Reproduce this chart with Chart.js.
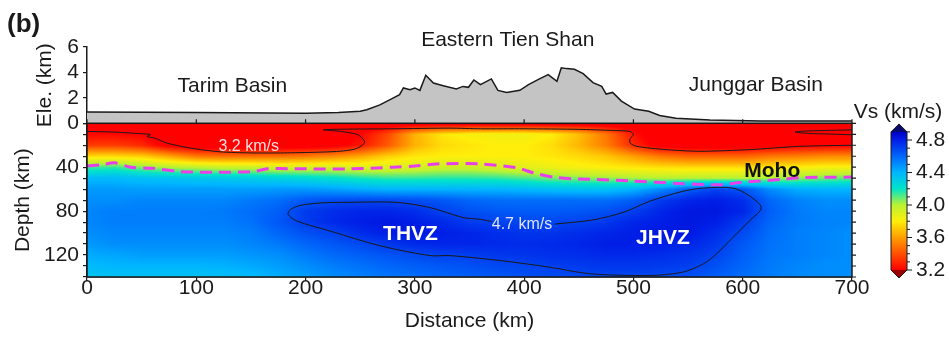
<!DOCTYPE html>
<html><head><meta charset="utf-8">
<script src="https://cdn.jsdelivr.net/npm/chart.js@4.4.1/dist/chart.umd.min.js"></script>
<style>html,body{margin:0;padding:0;background:#fff;}#wrap{width:949px;height:340px;position:relative;}</style>
</head><body><div id="wrap"><canvas id="c" width="949" height="340"></canvas></div>
<script>
// ---------------- data ----------------
const xTickLabels = ['0','100','200','300','400','500','600','700'];
const depthTickLabels = [40, 80, 120];
const eleTickLabels = [0, 2, 4, 6];
const cbTicks = [3.2, 3.6, 4.0, 4.4, 4.8];

// topography profile (km along profile, elevation km)
const eleDist = [0,100,200,230,250,256,268,280,286,289.5,295.6,300,304.6,310,317,326,338,344,349,354,360,370,376,384,396,404,414,422,430,434,439,446,454,463,471,475,481,489,501,514,524,539,570,616,700];
const eleKm   = [0.88,0.85,0.8,0.84,0.95,1.06,1.45,1.98,2.25,2.78,2.64,2.78,2.59,3.78,3.17,2.96,2.7,2.9,2.83,3.41,3.04,3.49,2.59,2.43,2.59,3.04,3.49,3.83,3.3,4.37,4.3,4.25,3.9,3.2,2.9,2.3,2.43,1.75,1.12,0.95,0.62,0.4,0.26,0.18,0.18];

// Vs model nodes
const vsDist  = [0,25,50,75,100,125,150,175,200,225,250,275,300,325,350,375,400,425,450,475,500,525,550,575,600,625,650,675,700];
const vsDepth = [0,10,20,30,40,50,60,70,80,90,100,110,120,130,140];
const vsD000 = [3.1,3.1,3.1,3.1,3.1,3.1,3.1,3.1,3.1,3.1,3.1,3.1,3.1,3.1,3.1,3.1,3.1,3.1,3.1,3.1,3.1,3.1,3.1,3.1,3.1,3.1,3.1,3.1,3.1];
const vsD010 = [3.22,3.22,3.2,3.1,3.05,3.05,3.05,3.05,3.08,3.12,3.2,3.38,3.65,3.78,3.82,3.84,3.84,3.8,3.68,3.5,3.25,3.1,3.05,3.05,3.05,3.05,3.1,3.1,3.1];
const vsD020 = [3.35,3.35,3.3,3.15,3.1,3.1,3.1,3.1,3.12,3.15,3.25,3.42,3.65,3.75,3.78,3.8,3.8,3.76,3.66,3.52,3.3,3.15,3.12,3.12,3.12,3.15,3.18,3.19,3.2];
const vsD030 = [3.75,3.75,3.72,3.62,3.5,3.48,3.48,3.48,3.5,3.55,3.62,3.72,3.78,3.8,3.8,3.8,3.8,3.78,3.75,3.7,3.6,3.5,3.45,3.45,3.45,3.5,3.52,3.55,3.55];
const vsD040 = [4.12,4.14,4.06,4.0,3.98,3.95,3.95,3.92,3.92,3.92,3.9,3.9,3.92,3.95,3.95,3.92,3.88,3.85,3.82,3.8,3.78,3.76,3.75,3.75,3.75,3.78,3.8,3.82,3.82];
const vsD050 = [4.38,4.38,4.36,4.35,4.33,4.32,4.3,4.28,4.25,4.22,4.18,4.15,4.15,4.16,4.16,4.15,4.12,4.08,4.06,4.04,4.02,4.0,4.0,4.0,4.0,4.02,4.05,4.08,4.1];
const vsD060 = [4.47,4.47,4.46,4.46,4.46,4.46,4.46,4.47,4.47,4.45,4.42,4.4,4.4,4.4,4.4,4.4,4.38,4.36,4.35,4.35,4.4,4.5,4.62,4.7,4.65,4.5,4.42,4.4,4.4];
const vsD070 = [4.5,4.5,4.52,4.52,4.52,4.52,4.55,4.58,4.64,4.67,4.68,4.68,4.67,4.64,4.6,4.58,4.58,4.58,4.58,4.58,4.62,4.72,4.78,4.8,4.76,4.6,4.53,4.5,4.5];
const vsD080 = [4.52,4.54,4.54,4.54,4.54,4.55,4.58,4.62,4.72,4.76,4.78,4.78,4.76,4.7,4.66,4.64,4.63,4.63,4.64,4.66,4.71,4.78,4.82,4.82,4.78,4.62,4.55,4.52,4.52];
const vsD090 = [4.52,4.54,4.54,4.54,4.54,4.54,4.57,4.64,4.72,4.77,4.8,4.82,4.8,4.77,4.72,4.7,4.69,4.69,4.7,4.73,4.78,4.8,4.82,4.8,4.72,4.6,4.55,4.53,4.52];
const vsD100 = [4.5,4.52,4.52,4.52,4.52,4.52,4.54,4.6,4.66,4.7,4.76,4.8,4.82,4.8,4.78,4.76,4.74,4.74,4.76,4.78,4.8,4.82,4.82,4.76,4.68,4.58,4.54,4.52,4.5];
const vsD110 = [4.47,4.5,4.5,4.5,4.5,4.5,4.52,4.55,4.6,4.64,4.68,4.73,4.77,4.78,4.78,4.77,4.76,4.77,4.78,4.8,4.8,4.8,4.78,4.73,4.64,4.57,4.54,4.52,4.5];
const vsD120 = [4.43,4.44,4.46,4.46,4.46,4.46,4.48,4.5,4.55,4.59,4.62,4.65,4.68,4.7,4.71,4.73,4.74,4.75,4.76,4.77,4.77,4.76,4.74,4.7,4.62,4.56,4.54,4.52,4.5];
const vsD130 = [4.38,4.4,4.4,4.4,4.4,4.41,4.43,4.46,4.5,4.54,4.57,4.6,4.62,4.64,4.66,4.68,4.69,4.71,4.72,4.73,4.73,4.72,4.71,4.66,4.6,4.55,4.52,4.5,4.5];
const vsD140 = [4.33,4.35,4.35,4.35,4.35,4.36,4.38,4.42,4.46,4.5,4.53,4.56,4.58,4.6,4.62,4.64,4.66,4.67,4.68,4.69,4.69,4.68,4.66,4.62,4.58,4.54,4.51,4.5,4.5];
const vsRows = [vsD000,vsD010,vsD020,vsD030,vsD040,vsD050,vsD060,vsD070,vsD080,vsD090,vsD100,vsD110,vsD120,vsD130,vsD140];

// Moho
const mohoDist  = [0,15,25,40,60,85,120,152,165,200,240,280,300,320,360,393,408,430,460,497,545,582,597,637,652,700];
const mohoDepth = [39,37.5,36,40,41,44,44.5,44,41.5,41.5,41.5,40,39,37,37,40.5,45,49.5,51,52.5,55,56,54,51,49.5,49];

// 3.2 km/s contours
const c32aDist  = [0,25,50,58,55,62,73,94,122,150,177,205,231,245,252,254,248,232,216,240,280,332,360,400,450,480,497,500,497,497,503,530,561,606,652,700];
const c32aDepth = [7.4,8,9.5,10.2,12,13.5,18,22.5,26,27,27,26.5,25.5,23.5,20,16.5,10.4,7.4,5.9,5.3,5,4.4,5,5,5.5,6.5,7.4,10.4,14,18,21,24,25.5,24,21,20];
const c32bDist  = [700,680,660,648,660,680,700];
const c32bDepth = [6,6.4,7,8,9.2,9.8,10.5];
// 4.7 km/s contour
const c47Dist  = [428,463,491,515,545,564,591,606,617,606,591,576,564,545,515,460,423,378,332,314,268,222,192,184,186,195,215,238,283,314,344,360,370];
const c47Depth = [91.8,88,81,71,62,59,59,66,77,89,104,119,128,135.6,138.6,137,131,125,120.5,120.5,111.5,98,89,83,78.7,74.8,72.5,72,72,76.8,85.8,87.5,89.5];

// colour scale
const cmapV   = [3.2,3.4,3.6,3.8,4.0,4.2,4.4,4.6,4.8,4.9];
const cmapRGB = [[255,0,0],[255,80,0],[255,158,0],[255,238,10],[185,242,50],[0,228,200],[0,182,255],[0,102,250],[0,30,230],[0,0,200]];

// ---------------- helpers ----------------
const FONT = "'Liberation Sans', Arial, Helvetica, sans-serif";
const INK = '#1a1a1a';
Chart.defaults.font.family = FONT;
Chart.defaults.font.size = 21;
Chart.defaults.color = INK;

const toXY = (xs, ys) => xs.map((x, i) => ({x: x, y: ys[i]}));

function locate(arr, v) {
  const n = arr.length;
  if (v <= arr[0]) return [0, 0];
  if (v >= arr[n - 1]) return [n - 2, 1];
  let i = 0;
  while (arr[i + 1] < v) i++;
  return [i, (v - arr[i]) / (arr[i + 1] - arr[i])];
}
function vsColor(v) {
  if (v <= cmapV[0]) return cmapRGB[0];
  const n = cmapV.length;
  if (v >= cmapV[n - 1]) return cmapRGB[n - 1];
  const [i, t] = locate(cmapV, v);
  const a = cmapRGB[i], b = cmapRGB[i + 1];
  return [a[0] + (b[0] - a[0]) * t, a[1] + (b[1] - a[1]) * t, a[2] + (b[2] - a[2]) * t];
}

// ---------------- plugins ----------------
const vsFieldPlugin = {
  id: 'vsField',
  beforeDatasetsDraw(chart) {
    const xs = chart.scales.x, ys = chart.scales.yDep, ctx = chart.ctx;
    const L = Math.floor(xs.left), R = Math.ceil(xs.right), T = Math.floor(ys.top), B = Math.ceil(ys.bottom);
    const w = R - L, h = B - T;
    const off = document.createElement('canvas');
    off.width = w; off.height = h;
    const octx = off.getContext('2d');
    const img = octx.createImageData(w, h);
    const colIdx = [];
    for (let px = 0; px < w; px++) colIdx.push(locate(vsDist, xs.getValueForPixel(L + px + 0.5)));
    for (let py = 0; py < h; py++) {
      const [j, u] = locate(vsDepth, ys.getValueForPixel(T + py + 0.5));
      const r0 = vsRows[j], r1 = vsRows[j + 1];
      for (let px = 0; px < w; px++) {
        const [i, t] = colIdx[px];
        const a = r0[i] + (r0[i + 1] - r0[i]) * t;
        const b = r1[i] + (r1[i + 1] - r1[i]) * t;
        const c = vsColor(a + (b - a) * u);
        const k = (py * w + px) * 4;
        img.data[k] = c[0]; img.data[k + 1] = c[1]; img.data[k + 2] = c[2]; img.data[k + 3] = 255;
      }
    }
    octx.putImageData(img, 0, 0);
    ctx.save();
    ctx.beginPath();
    ctx.rect(xs.left, ys.top, xs.right - xs.left, ys.bottom - ys.top);
    ctx.clip();
    ctx.drawImage(off, L, T);
    ctx.restore();
  }
};

const framePlugin = {
  id: 'frame',
  afterDatasetsDraw(chart) {
    const xs = chart.scales.x, yd = chart.scales.yDep, ctx = chart.ctx;
    ctx.save();
    ctx.strokeStyle = INK;
    ctx.lineWidth = 1.5;
    ctx.strokeRect(xs.left, yd.top, xs.right - xs.left, yd.bottom - yd.top);
    ctx.lineWidth = 1.2;
    ctx.beginPath();
    xs.ticks.forEach(t => { const p = xs.getPixelForValue(t.value); ctx.moveTo(p, yd.top); ctx.lineTo(p, yd.top - 4); });
    yd.ticks.forEach(t => { const p = yd.getPixelForValue(t.value); ctx.moveTo(xs.right, p); ctx.lineTo(xs.right + 4, p); });
    ctx.stroke();
    ctx.restore();
  }
};

const notes = [
  {text: 'Tarim Basin', x: 133, y: 2.9, axis: 'yEle', font: '21px', color: INK},
  {text: 'Eastern Tien Shan', x: 385, y: 6.53, axis: 'yEle', font: '21px', color: INK},
  {text: 'Junggar Basin', x: 612, y: 2.98, axis: 'yEle', font: '21px', color: INK},
  {text: '3.2 km/s', x: 148, y: 21, axis: 'yDep', font: '16px', color: 'rgba(255,232,232,0.95)'},
  {text: '4.7 km/s', x: 398, y: 92, axis: 'yDep', font: '16px', color: 'rgba(235,235,255,0.95)'},
  {text: 'THVZ', x: 296, y: 101, axis: 'yDep', font: 'bold 21px', color: '#ffffff'},
  {text: 'JHVZ', x: 527, y: 105, axis: 'yDep', font: 'bold 21px', color: '#ffffff'},
  {text: 'Moho', x: 627, y: 44, axis: 'yDep', font: 'bold 21px', color: '#111111'}
];
const textPlugin = {
  id: 'notes',
  afterDatasetsDraw(chart) {
    const ctx = chart.ctx, xs = chart.scales.x;
    ctx.save();
    ctx.textAlign = 'center';
    ctx.textBaseline = 'middle';
    notes.forEach(n => {
      ctx.font = n.font + ' ' + FONT;
      ctx.fillStyle = n.color;
      ctx.fillText(n.text, xs.getPixelForValue(n.x), chart.scales[n.axis].getPixelForValue(n.y));
    });
    ctx.textAlign = 'left';
    ctx.font = 'bold 26px ' + FONT;
    ctx.fillStyle = INK;
    ctx.fillText('(b)', 7, 25);
    ctx.restore();
  }
};

const colorbarPlugin = {
  id: 'colorbar',
  afterDraw(chart) {
    const ctx = chart.ctx, yd = chart.scales.yDep, ca = chart.chartArea;
    const x0 = ca.right + 39, w = 16;
    const vLo = cmapV[0], vHi = cmapV[cmapV.length - 1];
    const yLo = yd.bottom - 7, yHi = yd.top + 8.6;
    const v2y = v => yLo - (v - vLo) / (vHi - vLo) * (yLo - yHi);
    ctx.save();
    for (let y = Math.floor(yHi); y < Math.ceil(yLo); y++) {
      const v = vLo + (yLo - (y + 0.5)) / (yLo - yHi) * (vHi - vLo);
      const c = vsColor(v);
      ctx.fillStyle = 'rgb(' + c.map(Math.round).join(',') + ')';
      ctx.fillRect(x0, y, w, 1);
    }
    ctx.fillStyle = '#0a0a6e';
    ctx.beginPath(); ctx.moveTo(x0, yHi); ctx.lineTo(x0 + w, yHi); ctx.lineTo(x0 + w / 2, yHi - 8); ctx.closePath(); ctx.fill();
    ctx.fillStyle = '#9a0000';
    ctx.beginPath(); ctx.moveTo(x0, yLo); ctx.lineTo(x0 + w, yLo); ctx.lineTo(x0 + w / 2, yLo + 8); ctx.closePath(); ctx.fill();
    ctx.strokeStyle = INK; ctx.lineWidth = 1;
    ctx.beginPath();
    ctx.moveTo(x0, yHi); ctx.lineTo(x0 + w / 2, yHi - 8); ctx.lineTo(x0 + w, yHi);
    ctx.lineTo(x0 + w, yLo); ctx.lineTo(x0 + w / 2, yLo + 8); ctx.lineTo(x0, yLo); ctx.closePath();
    ctx.stroke();
    ctx.beginPath();
    for (let k = 32; k <= 49; k++) {
      const v = k / 10;
      const major = cbTicks.some(t => Math.abs(t - v) < 1e-6);
      const y = v2y(v);
      ctx.moveTo(x0 + w, y); ctx.lineTo(x0 + w + (major ? 5 : 3), y);
    }
    ctx.stroke();
    ctx.fillStyle = INK;
    ctx.font = '21px ' + FONT;
    ctx.textAlign = 'left'; ctx.textBaseline = 'middle';
    cbTicks.forEach(t => ctx.fillText(t.toFixed(1), x0 + w + 9, v2y(t)));
    ctx.textAlign = 'center';
    ctx.fillText('Vs (km/s)', x0 + w / 2 - 1, yHi - 20);
    ctx.restore();
  }
};

// ---------------- chart ----------------
const axisGrid = {drawOnChartArea: false, drawTicks: true, tickLength: 4, color: INK, lineWidth: 1.2};
const axisBorder = {color: INK, width: 1.5};

new Chart(document.getElementById('c'), {
  type: 'line',
  data: {
    datasets: [
      {label: 'Elevation', data: toXY(eleDist, eleKm), yAxisID: 'yEle', fill: 'origin', backgroundColor: '#c4c4c4', borderColor: INK, borderWidth: 1.5, pointRadius: 0, tension: 0},
      {label: 'Moho', data: toXY(mohoDist, mohoDepth), yAxisID: 'yDep', fill: false, borderColor: '#e840e8', borderWidth: 3, borderDash: [12, 7], pointRadius: 0, tension: 0.3},
      {label: '3.2 km/s', data: toXY(c32aDist, c32aDepth), yAxisID: 'yDep', fill: false, borderColor: INK, borderWidth: 1, pointRadius: 0, tension: 0.25},
      {label: '3.2 km/s b', data: toXY(c32bDist, c32bDepth), yAxisID: 'yDep', fill: false, borderColor: INK, borderWidth: 1, pointRadius: 0, tension: 0.3},
      {label: '4.7 km/s', data: toXY(c47Dist, c47Depth), yAxisID: 'yDep', fill: false, borderColor: INK, borderWidth: 1, pointRadius: 0, tension: 0.3}
    ]
  },
  options: {
    responsive: false,
    animation: false,
    devicePixelRatio: 1,
    layout: {padding: {left: 0, right: 97, top: 47, bottom: 0}},
    plugins: {legend: {display: false}, tooltip: {enabled: false}},
    scales: {
      x: {
        type: 'linear', position: 'bottom', min: 0, max: 700,
        ticks: {stepSize: 100, padding: -3, font: {size: 21, lineHeight: 1}, color: INK,
                callback: (v, i) => xTickLabels[i]},
        grid: axisGrid, border: axisBorder,
        title: {display: true, text: 'Distance (km)', color: INK, font: {size: 21}, padding: {top: 0, bottom: 6}},
        afterFit(s) { s.height = 63; }
      },
      yDep: {
        type: 'linear', position: 'left', stack: 'panels', stackWeight: 153.7, weight: 0,
        reverse: true, min: 0, max: 140,
        ticks: {stepSize: 10, autoSkip: false, padding: 4, color: INK, font: {size: 21},
                callback: v => depthTickLabels.includes(v) ? String(v) : ''},
        grid: axisGrid, border: axisBorder,
        title: {display: true, text: 'Depth (km)', color: INK, font: {size: 21}, padding: {top: 10.4, bottom: 0}},
        afterFit(s) { s.width = 87; }
      },
      yEle: {
        type: 'linear', position: 'left', stack: 'panels', stackWeight: 76.3, weight: 1,
        min: 0, max: 6,
        ticks: {stepSize: 2, autoSkip: false, padding: 4, color: INK, font: {size: 21},
                callback: v => eleTickLabels.includes(v) ? String(v) : ''},
        grid: axisGrid, border: axisBorder,
        title: {display: true, text: 'Ele. (km)', color: INK, font: {size: 21}, padding: {top: 32.4, bottom: 0}},
        afterFit(s) { s.width = 87; }
      }
    }
  },
  plugins: [vsFieldPlugin, framePlugin, textPlugin, colorbarPlugin]
});
</script></body></html>
